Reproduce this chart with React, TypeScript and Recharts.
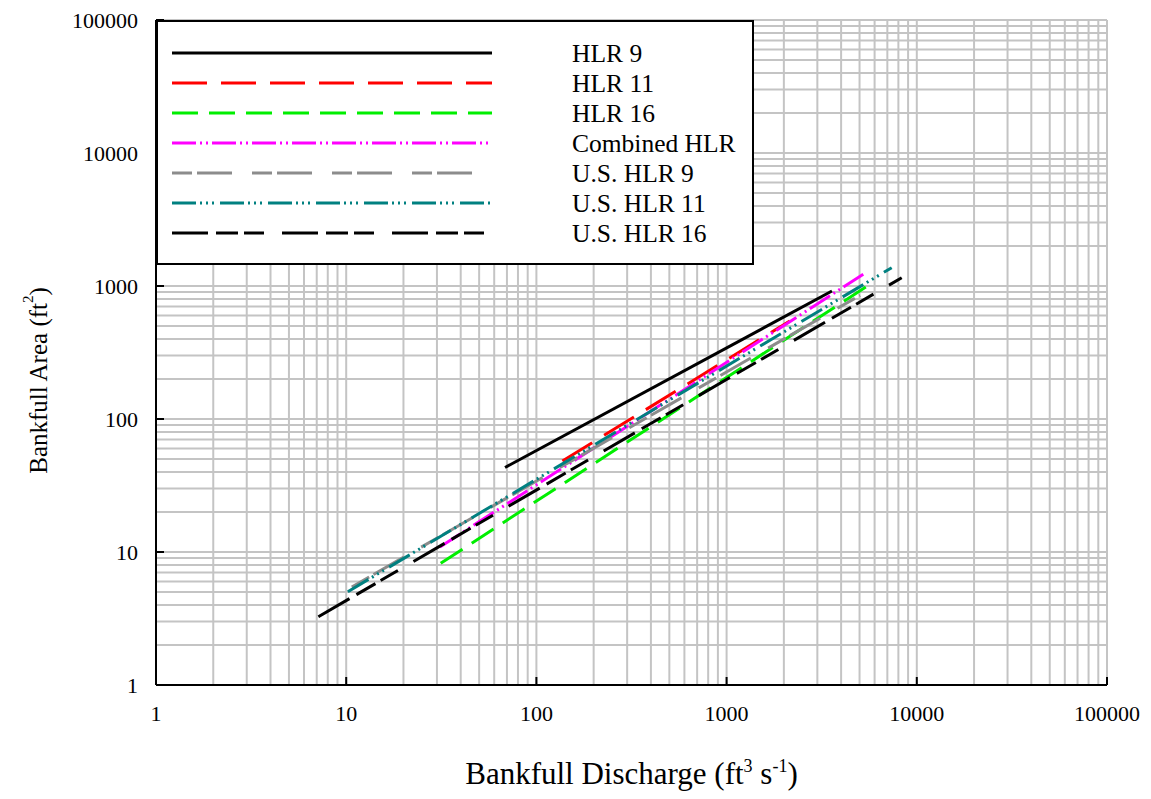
import { LineChart, Line, XAxis, YAxis, CartesianGrid, Legend, Label } from "recharts"

const FONT = "'Liberation Serif', 'DejaVu Serif', serif"

const seriesNames = [
  "HLR 9",
  "HLR 11",
  "HLR 16",
  "Combined HLR",
  "U.S. HLR 9",
  "U.S. HLR 11",
  "U.S. HLR 16",
]

// bankfull discharge (ft3/s) and area (ft2) at both ends of each regression line
const dischargeHLR9 = [68.4, 3580]
const areaHLR9 = [43.2, 917]
const dischargeHLR11 = [137, 2150]
const areaHLR11 = [48.3, 546]
const dischargeHLR16 = [31.4, 6030]
const areaHLR16 = [8.22, 1091]
const dischargeCombined = [31.1, 5230]
const areaCombined = [10.9, 1224]
const dischargeUS9 = [10.7, 5030]
const areaUS9 = [5.46, 850]
const dischargeUS11 = [10.2, 7380]
const areaUS11 = [5.03, 1373]
const dischargeUS16 = [7.14, 8330]
const areaUS16 = [3.26, 1154]

const decadeTicks = [1, 10, 100, 1000, 10000, 100000]
const gridSteps = [1, 2, 3, 4, 5, 6, 7, 8, 9]

const gridValues = decadeTicks
  .slice(0, -1)
  .flatMap((d) => gridSteps.map((s) => d * s))
  .concat([100000])

const pts = (q: number[], a: number[]) => q.map((v, i) => ({ q: v, area: a[i] }))

const SERIES = [
  { name: seriesNames[0], color: "#000000", dash: undefined, data: pts(dischargeHLR9, areaHLR9) },
  { name: seriesNames[1], color: "#ff0000", dash: "35 14", data: pts(dischargeHLR11, areaHLR11) },
  { name: seriesNames[2], color: "#00ee00", dash: "26 11", data: pts(dischargeHLR16, areaHLR16) },
  { name: seriesNames[3], color: "#ff00ff", dash: "24 4 2 4 2 4", data: pts(dischargeCombined, areaCombined) },
  { name: seriesNames[4], color: "#8c8c8c", dash: "20 5 35 20", data: pts(dischargeUS9, areaUS9) },
  { name: seriesNames[5], color: "#008080", dash: "24 4 2 4 2 4 2 6", data: pts(dischargeUS11, areaUS11) },
  { name: seriesNames[6], color: "#000000", dash: "36 8 22 6 20 18", data: pts(dischargeUS16, areaUS16) },
]

function LegendBox() {
  return (
    <div
      style={{
        width: 598,
        height: 245,
        boxSizing: "border-box",
        border: "2px solid #000",
        background: "#fff",
      }}
    >
      <svg width={594} height={241}>
        {SERIES.map((s, i) => (
          <g key={s.name}>
            <line
              x1={14}
              x2={334}
              y1={31 + i * 30}
              y2={31 + i * 30}
              stroke={s.color}
              strokeWidth={3}
              strokeDasharray={s.dash}
            />
            <text
              x={414}
              y={31 + i * 30}
              dy="0.35em"
              fontSize={25.5}
              fontFamily={FONT}
              fill="#000"
            >
              {s.name}
            </text>
          </g>
        ))}
      </svg>
    </div>
  )
}

function XTitle(props: any) {
  const vb = props.viewBox
  return (
    <text
      x={vb.x + vb.width / 2}
      y={vb.y + 99}
      textAnchor="middle"
      fontSize={31}
      fontFamily={FONT}
      fill="#000"
    >
      Bankfull Discharge (ft
      <tspan dy={-12} fontSize={18}>3</tspan>
      <tspan dy={12}> s</tspan>
      <tspan dy={-12} fontSize={18}>-1</tspan>
      <tspan dy={12}>)</tspan>
    </text>
  )
}

function YTitle(props: any) {
  const vb = props.viewBox
  const cx = 30
  const cy = vb.y + vb.height / 2 + 28
  return (
    <text
      x={cx}
      y={cy}
      transform={`rotate(-90, ${cx}, ${cy})`}
      textAnchor="middle"
      dominantBaseline="central"
      fontSize={25}
      fontFamily={FONT}
      fill="#000"
    >
      Bankfull Area (ft
      <tspan dy={-10} fontSize={15}>2</tspan>
      <tspan dy={10}>)</tspan>
    </text>
  )
}

const tickStyle = { fill: "#000", fontSize: 22, fontFamily: FONT }
const frame = { stroke: "#000", strokeWidth: 2 }

export default function App() {
  return (
    <div style={{ fontFamily: FONT }}>
      <LineChart
        width={1143}
        height={790}
        margin={{ top: 12, right: 44, bottom: 13, left: 0 }}
      >
        <CartesianGrid
          stroke="#c4c4c4"
          strokeWidth={2}
          verticalValues={gridValues}
          horizontalValues={gridValues}
        />
        <XAxis
          dataKey="q"
          type="number"
          scale="log"
          domain={[1, 100000]}
          allowDataOverflow
          ticks={decadeTicks}
          interval={0}
          height={100}
          tickSize={-8}
          tickMargin={28}
          tick={tickStyle}
          tickLine={frame}
          axisLine={frame}
        >
          <Label content={XTitle} />
        </XAxis>
        <XAxis
          xAxisId="top"
          orientation="top"
          dataKey="q"
          type="number"
          scale="log"
          domain={[1, 100000]}
          allowDataOverflow
          ticks={decadeTicks}
          interval={0}
          height={0}
          tickSize={-8}
          tick={false}
          tickLine={frame}
          axisLine={frame}
        />
        <YAxis
          dataKey="area"
          type="number"
          scale="log"
          domain={[1, 100000]}
          allowDataOverflow
          ticks={decadeTicks}
          interval={0}
          width={148}
          tickSize={-8}
          tickMargin={26}
          tick={tickStyle}
          tickLine={frame}
          axisLine={frame}
        >
          <Label content={YTitle} />
        </YAxis>
        <YAxis
          yAxisId="right"
          orientation="right"
          dataKey="area"
          type="number"
          scale="log"
          domain={[1, 100000]}
          allowDataOverflow
          ticks={decadeTicks}
          interval={0}
          width={0}
          tickSize={-8}
          tick={false}
          tickLine={frame}
          axisLine={frame}
        />
        {SERIES.map((s) => (
          <Line
            key={s.name}
            data={s.data}
            dataKey="area"
            name={s.name}
            type="linear"
            stroke={s.color}
            strokeWidth={3}
            strokeDasharray={s.dash}
            dot={false}
            activeDot={false}
            isAnimationActive={false}
          />
        ))}
        <Legend
          layout="vertical"
          align="center"
          verticalAlign="middle"
          wrapperStyle={{ top: 12, left: 148, width: 598, height: 245 }}
          content={LegendBox}
        />
      </LineChart>
    </div>
  )
}
